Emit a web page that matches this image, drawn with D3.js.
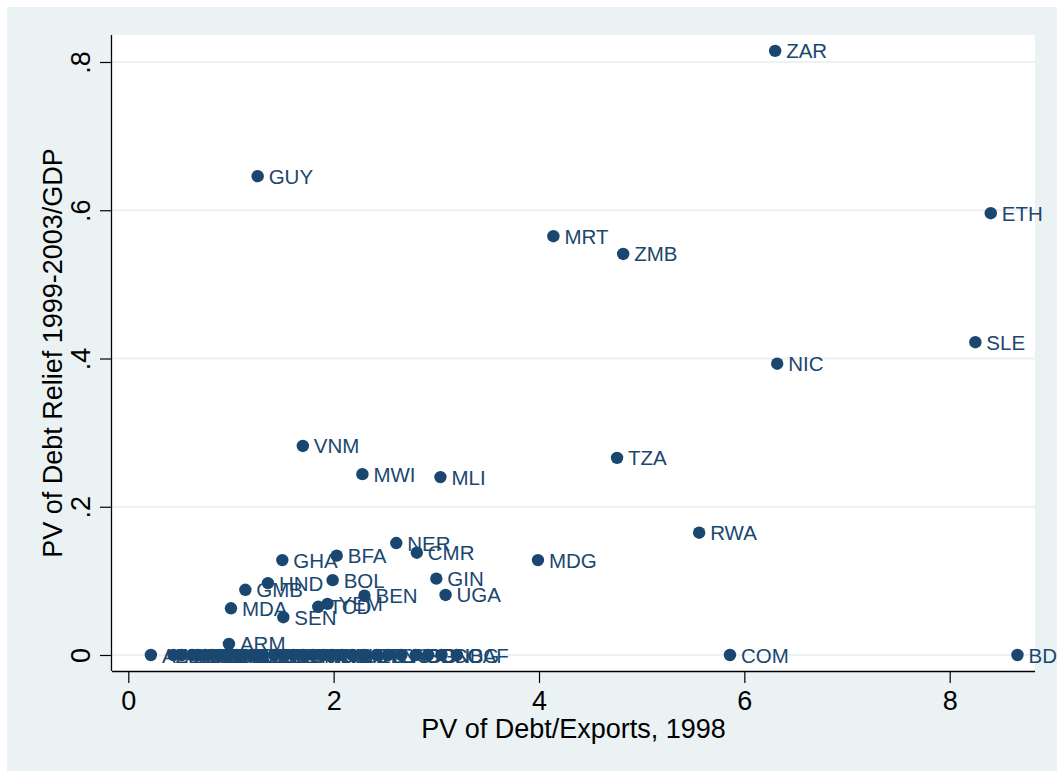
<!DOCTYPE html>
<html>
<head>
<meta charset="utf-8">
<script src="https://cdn.jsdelivr.net/npm/d3@7"></script>
<style>
  html, body { margin: 0; padding: 0; background: #ffffff; }
  svg { display: block; }
  text { font-family: "Liberation Sans", Arial, Helvetica, sans-serif; }
</style>
</head>
<body>
<svg id="chart" width="1057" height="773"></svg>
<script>
// ---- data ----
const countries = ["ZAR","GUY","ETH","MRT","ZMB","SLE","NIC","VNM","MWI","MLI","TZA","RWA","MDG","NER","CMR","BFA","GHA","BOL","HND","GMB","GIN","UGA","BEN","MDA","SEN","TCD","YEM","ARM","COM","BDI",
  "AZE","ALB","KHM","GEO","IND","PAK","BGD","LKA","KGZ","NPL","ZWE","KEN","HTI","LSO","DJI","ERI","TJK","MNG","IDN","NGA","CIV","UZB","BTN","TGO","LAO","AGO","SDN","GNB","COG","CAF"];
const debtExports = [6.30,1.26,8.40,4.14,4.82,8.25,6.32,1.70,2.28,3.04,4.76,5.56,3.99,2.61,2.81,2.03,1.50,1.99,1.36,1.14,3.00,3.09,2.30,1.00,1.51,1.85,1.94,0.98,5.86,8.66,
  0.22,0.44,0.52,0.62,0.68,0.75,0.82,0.90,0.97,1.06,1.14,1.22,1.31,1.42,1.52,1.61,1.70,1.80,1.90,1.98,2.08,2.18,2.30,2.42,2.53,2.66,2.80,2.92,3.05,3.20];
const debtRelief = [0.815,0.646,0.596,0.565,0.541,0.422,0.393,0.282,0.244,0.240,0.266,0.165,0.128,0.151,0.138,0.134,0.128,0.101,0.097,0.088,0.103,0.081,0.080,0.063,0.051,0.065,0.069,0.015,0,0,
  0,0,0,0,0,0,0,0,0,0,0,0,0,0,0,0,0,0,0,0,0,0,0,0,0,0,0,0,0,0];
const xTicks = [0,2,4,6,8];
const yTicks = [0,0.2,0.4,0.6,0.8];
const yTickLabels = ["0",".2",".4",".6",".8"];
const xTitle = "PV of Debt/Exports, 1998";
const yTitle = "PV of Debt Relief 1999-2003/GDP";

// ---- layout ----
const W = 1057, H = 773;
const plot = {left: 112, right: 1035, top: 35, bottom: 671};
const navy = "#1a476f";
const gridCol = "#eaf2f3";

const svg = d3.select("#chart");

// outer background
svg.append("rect").attr("x", 7).attr("y", 7).attr("width", W).attr("height", 764).attr("fill", "#eaf2f3");
// plot region
svg.append("rect").attr("x", plot.left).attr("y", plot.top)
  .attr("width", plot.right - plot.left).attr("height", plot.bottom - plot.top).attr("fill", "#ffffff");

const x = d3.scaleLinear().domain([-0.1588, 8.8308]).range([plot.left, plot.right]);
const y = d3.scaleLinear().domain([-0.021585, 0.83642]).range([plot.bottom, plot.top]);

// gridlines
svg.append("g").selectAll("line").data(yTicks).join("line")
  .attr("x1", plot.left).attr("x2", plot.right)
  .attr("y1", d => y(d)).attr("y2", d => y(d))
  .attr("stroke", gridCol).attr("stroke-width", 2);

// axes
const xAxis = d3.axisBottom(x).tickValues(xTicks).tickSize(12).tickPadding(8).tickFormat(d3.format("d"));
const gx = svg.append("g").attr("transform", `translate(0,${plot.bottom})`).call(xAxis);
gx.select(".domain").attr("d", `M${plot.left},0.5H${plot.right}`).attr("stroke", "#000").attr("stroke-width", 1.3);
gx.selectAll(".tick line").attr("stroke", "#000").attr("stroke-width", 1.2);
gx.selectAll(".tick text").attr("font-size", 27).attr("fill", "#000")
  .attr("font-family", '"Liberation Sans", Arial, sans-serif').attr("dy", "0.72em");

const yAxis = d3.axisLeft(y).tickValues(yTicks).tickSize(12).tickPadding(0)
  .tickFormat((d, i) => yTickLabels[i]);
const gy = svg.append("g").attr("transform", `translate(${plot.left},0)`).call(yAxis);
gy.select(".domain").attr("d", `M-0.5,${plot.top}V${plot.bottom}`).attr("stroke", "#000").attr("stroke-width", 1.3);
gy.selectAll(".tick line").attr("stroke", "#000").attr("stroke-width", 1.2);
gy.selectAll(".tick text")
  .attr("font-size", 27).attr("fill", "#000")
  .attr("font-family", '"Liberation Sans", Arial, sans-serif')
  .attr("x", null).attr("dy", null)
  .attr("text-anchor", "middle")
  .attr("transform", "translate(-22,0) rotate(-90)");

// axis titles
svg.append("text").attr("x", (plot.left + plot.right) / 2).attr("y", 738)
  .attr("text-anchor", "middle").attr("font-size", 27).attr("fill", "#000").text(xTitle);
svg.append("text").attr("transform", `translate(62,${(plot.top + plot.bottom) / 2}) rotate(-90)`)
  .attr("text-anchor", "middle").attr("font-size", 27).attr("fill", "#000").text(yTitle);

// points
const data = countries.map((c, i) => ({name: c, x: debtExports[i], y: debtRelief[i]}));
const pts = svg.append("g");
pts.selectAll("circle").data(data).join("circle")
  .attr("cx", d => x(d.x)).attr("cy", d => y(d.y)).attr("r", 6.2).attr("fill", navy);
pts.selectAll("text").data(data).join("text")
  .attr("x", d => x(d.x) + 11).attr("y", d => y(d.y) + 7.5)
  .attr("font-size", 20.5).attr("fill", navy).text(d => d.name);
</script>
</body>
</html>
